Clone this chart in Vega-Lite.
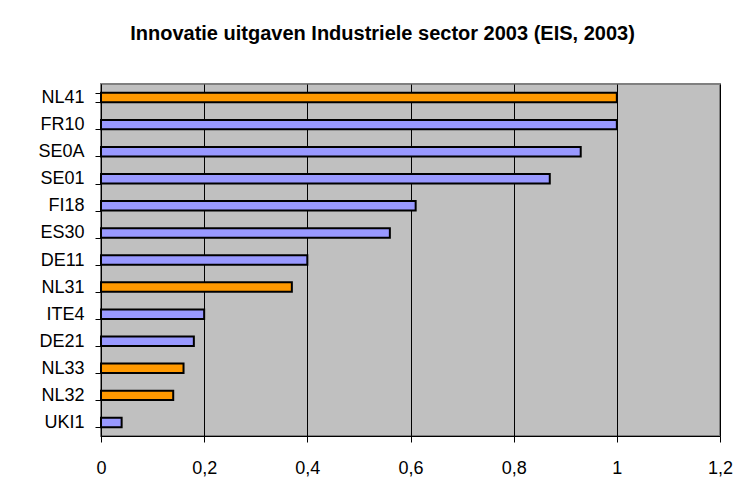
{
  "$schema": "https://vega.github.io/schema/vega-lite/v6.json",
  "autosize": "none",
  "width": 619,
  "height": 352,
  "padding": {"left": 101, "top": 84, "right": 32, "bottom": 64},
  "background": "white",
  "title": {
    "text": "Innovatie uitgaven Industriele sector 2003 (EIS, 2003)",
    "font": "Liberation Sans",
    "fontSize": 20,
    "fontWeight": "bold",
    "color": "black",
    "anchor": "middle",
    "baseline": "alphabetic",
    "offset": 15,
    "dx": -28
  },
  "data": {
    "values": [
      {"regio": "NL41", "waarde": 1.0, "groep": "NL"},
      {"regio": "FR10", "waarde": 1.0, "groep": "overig"},
      {"regio": "SE0A", "waarde": 0.93, "groep": "overig"},
      {"regio": "SE01", "waarde": 0.87, "groep": "overig"},
      {"regio": "FI18", "waarde": 0.61, "groep": "overig"},
      {"regio": "ES30", "waarde": 0.56, "groep": "overig"},
      {"regio": "DE11", "waarde": 0.40, "groep": "overig"},
      {"regio": "NL31", "waarde": 0.37, "groep": "NL"},
      {"regio": "ITE4", "waarde": 0.20, "groep": "overig"},
      {"regio": "DE21", "waarde": 0.18, "groep": "overig"},
      {"regio": "NL33", "waarde": 0.16, "groep": "NL"},
      {"regio": "NL32", "waarde": 0.14, "groep": "NL"},
      {"regio": "UKI1", "waarde": 0.04, "groep": "overig"}
    ]
  },
  "mark": {"type": "bar", "stroke": "black", "strokeWidth": 2, "cornerRadius": 0},
  "encoding": {
    "y": {
      "field": "regio",
      "type": "nominal",
      "sort": null,
      "scale": {"paddingInner": 0.65, "paddingOuter": 0.325},
      "axis": {
        "title": null,
        "tickBand": "extent",
        "grid": false,
        "domainColor": "black",
        "domainWidth": 1,
        "tickColor": "black",
        "tickSize": 6,
        "labelFont": "Liberation Sans",
        "labelFontSize": 18,
        "labelColor": "black",
        "labelPadding": 11
      }
    },
    "x": {
      "field": "waarde",
      "type": "quantitative",
      "scale": {"domain": [0, 1.2], "nice": false},
      "axis": {
        "title": null,
        "values": [0, 0.2, 0.4, 0.6, 0.8, 1, 1.2],
        "format": "~g",
        "labelExpr": "replace(datum.label, '.', ',')",
        "grid": true,
        "gridColor": "black",
        "gridWidth": 1,
        "gridOpacity": 1,
        "domainColor": "black",
        "domainWidth": 1,
        "tickColor": "black",
        "tickSize": 6,
        "labelFont": "Liberation Sans",
        "labelFontSize": 18,
        "labelColor": "black",
        "labelPadding": 17,
        "labelFlush": false
      }
    },
    "color": {
      "field": "groep",
      "type": "nominal",
      "scale": {"domain": ["NL", "overig"], "range": ["#FF9900", "#9999FF"]},
      "legend": null
    }
  },
  "config": {
    "view": {"fill": "#C0C0C0", "stroke": "#808080", "strokeWidth": 2}
  }
}
